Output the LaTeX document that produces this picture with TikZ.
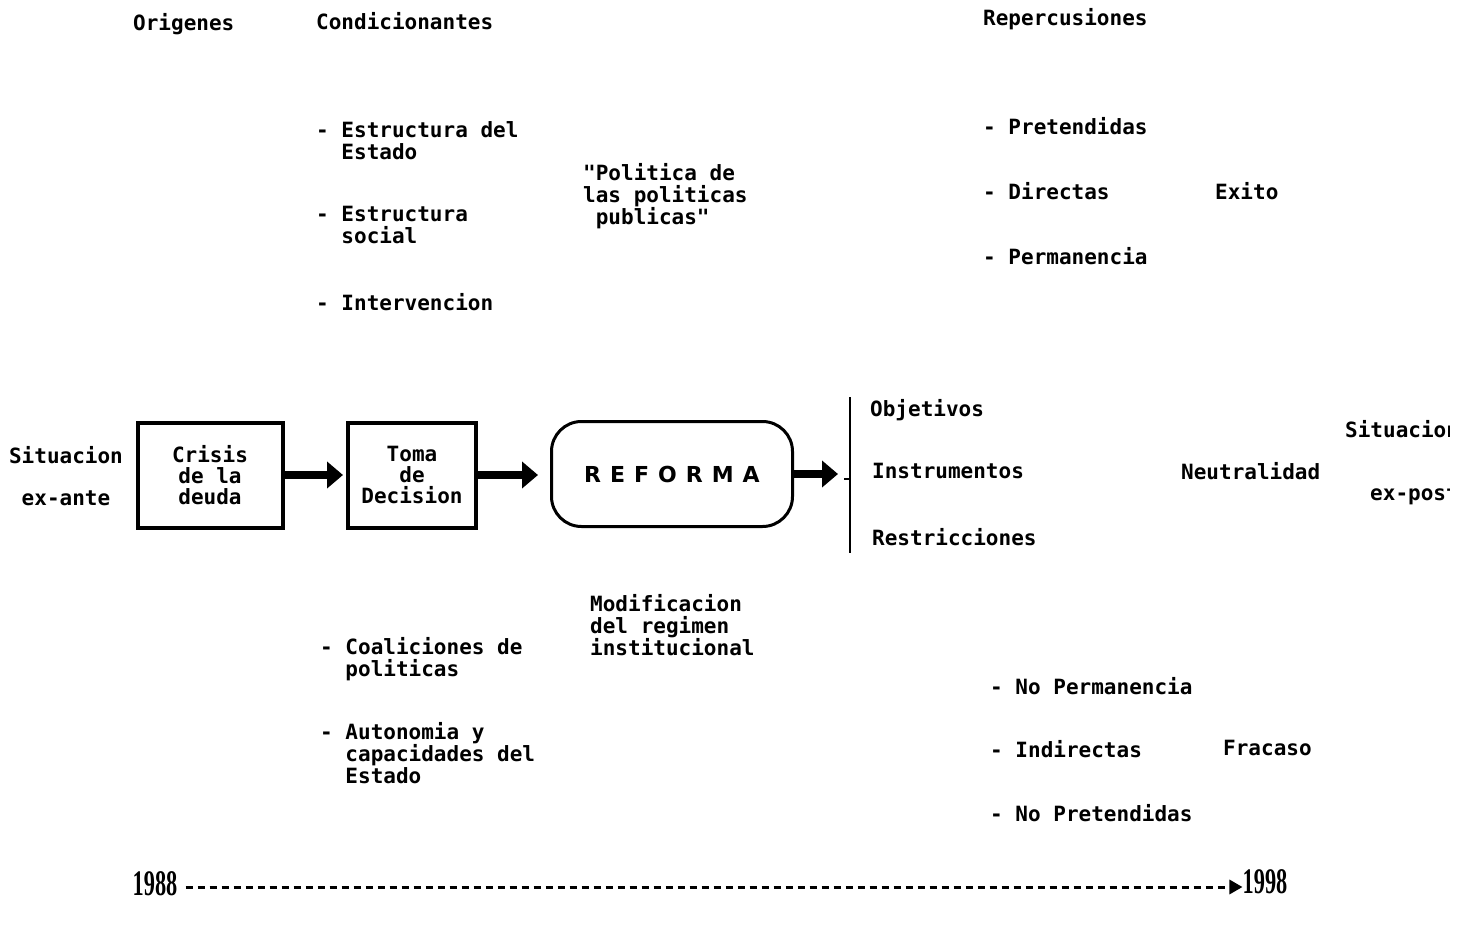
\documentclass[tikz,border=0pt]{standalone}
\usepackage{fontspec}
\usetikzlibrary{arrows.meta}
\newfontfamily\dmono{DejaVu Sans Mono}
\newfontfamily\dsans{DejaVu Sans}
\newfontfamily\yrfont[FakeStretch=0.62]{Liberation Serif}
\tikzset{
  lbl/.style={font=\dmono\bfseries\fontsize{21}{22}\selectfont, inner sep=0pt, anchor=north west, align=left},
  hdr/.style={font=\dmono\bfseries\fontsize{21}{22}\selectfont, inner sep=0pt, anchor=base west},
  stepbox/.style={draw, line width=4pt, inner sep=0pt, align=center,
    font=\dmono\bfseries\fontsize{21}{21}\selectfont},
  bigarrow/.style={line width=8pt, -{Triangle[length=16pt,width=26pt]}},
  yr/.style={font=\yrfont\bfseries\fontsize{36}{36}\selectfont, inner sep=0pt},
}
\begin{document}
\begin{tikzpicture}[x=1pt,y=-1pt]
\useasboundingbox (0,0) rectangle (1470,934);

% headers
\node[hdr] (origenes) at (133,31) {Origenes};
\node[hdr] (condic) at (316,30) {Condicionantes};
\node[hdr] (reperc) at (983,26) {Repercusiones};

% condicionantes (top)
\node[lbl] (estrE) at (316,121) {- Estructura del\\\phantom{- }Estado};
\node[lbl] (estrS) at (316,206) {- Estructura\\\phantom{- }social};
\node[lbl] (interv) at (316,293) {- Intervencion};
\node[lbl] (politica) at (583,163) {"Politica de\\las politicas\\\phantom{l}publicas"};

% repercusiones (top)
\node[lbl] (pret) at (983,117) {- Pretendidas};
\node[lbl] (direc) at (983,182) {- Directas};
\node[lbl] (exito) at (1215,182) {Exito};
\node[lbl] (perm) at (983,247) {- Permanencia};

% main row
\node[lbl, anchor=north, align=center] (sitexante) at (66,446) {Situacion\\[20pt]ex-ante};
\node[stepbox, minimum width=145pt, minimum height=105pt] (crisis) at (210,475) {Crisis\\de la\\deuda};
\node[stepbox, minimum width=128pt, minimum height=105pt] (toma) at (412,475) {Toma\\de\\Decision};
\node[draw, line width=3pt, rounded corners=30pt, minimum width=241pt, minimum height=105pt,
      font=\dsans\bfseries\fontsize{22}{22}\selectfont] (reforma) at (672,474)
      {R\hspace{9pt}E\hspace{9pt}F\hspace{9pt}O\hspace{9pt}R\hspace{9pt}M\hspace{9pt}A};

\draw[bigarrow, shorten >=3pt] (crisis.east) -- (toma.west);
\draw[bigarrow, shorten >=12pt] (toma.east) -- (toma.east -| reforma.west);

\coordinate (brtop) at (850,397);
\coordinate (brbot) at (850,553);
\coordinate (brmid) at (850,474);
\coordinate (brtick) at (844,479);
\coordinate (brtickend) at (850,479);
\draw[line width=2pt] (brtop) -- (brbot);
\draw[line width=2pt] (brtick) -- (brtickend);
\draw[bigarrow, shorten >=12pt] (reforma.east) -- (brmid);

\node[lbl] (objet) at (870,399) {Objetivos};
\node[lbl] (instr) at (872,463) {Instrumentos};
\node[lbl] (restr) at (872,528) {Restricciones};
\node[lbl] (neutral) at (1181,462) {Neutralidad};

\begin{scope}
  \clip (0,0) rectangle (1449,934);
  \node[lbl] (sitexpost) at (1345,420) {Situacion};
  \node[lbl] (expost) at (1370,486) {ex-post};
\end{scope}

% bottom
\node[lbl] (modif) at (590,594) {Modificacion\\del regimen\\institucional};
\node[lbl] (coal) at (320,637) {- Coaliciones de\\\phantom{- }politicas};
\node[lbl] (auton) at (320,722) {- Autonomia y\\\phantom{- }capacidades del\\\phantom{- }Estado};

\node[lbl] (noperm) at (990,677) {- No Permanencia};
\node[lbl] (indir) at (990,740) {- Indirectas};
\node[lbl] (fracaso) at (1223,740) {Fracaso};
\node[lbl] (nopret) at (990,804) {- No Pretendidas};

% timeline
\node[yr] (y1988) at (155,884) {1988};
\node[yr] (y1998) at (1265,882) {1998};
\draw[line width=3pt, dash pattern=on 7pt off 5pt, -{Triangle[length=13pt,width=14pt]}]
  (y1988.east) ++(8,3) coordinate (tstart) (tstart) -- (y1998.west |- tstart);
\end{tikzpicture}
\end{document}
